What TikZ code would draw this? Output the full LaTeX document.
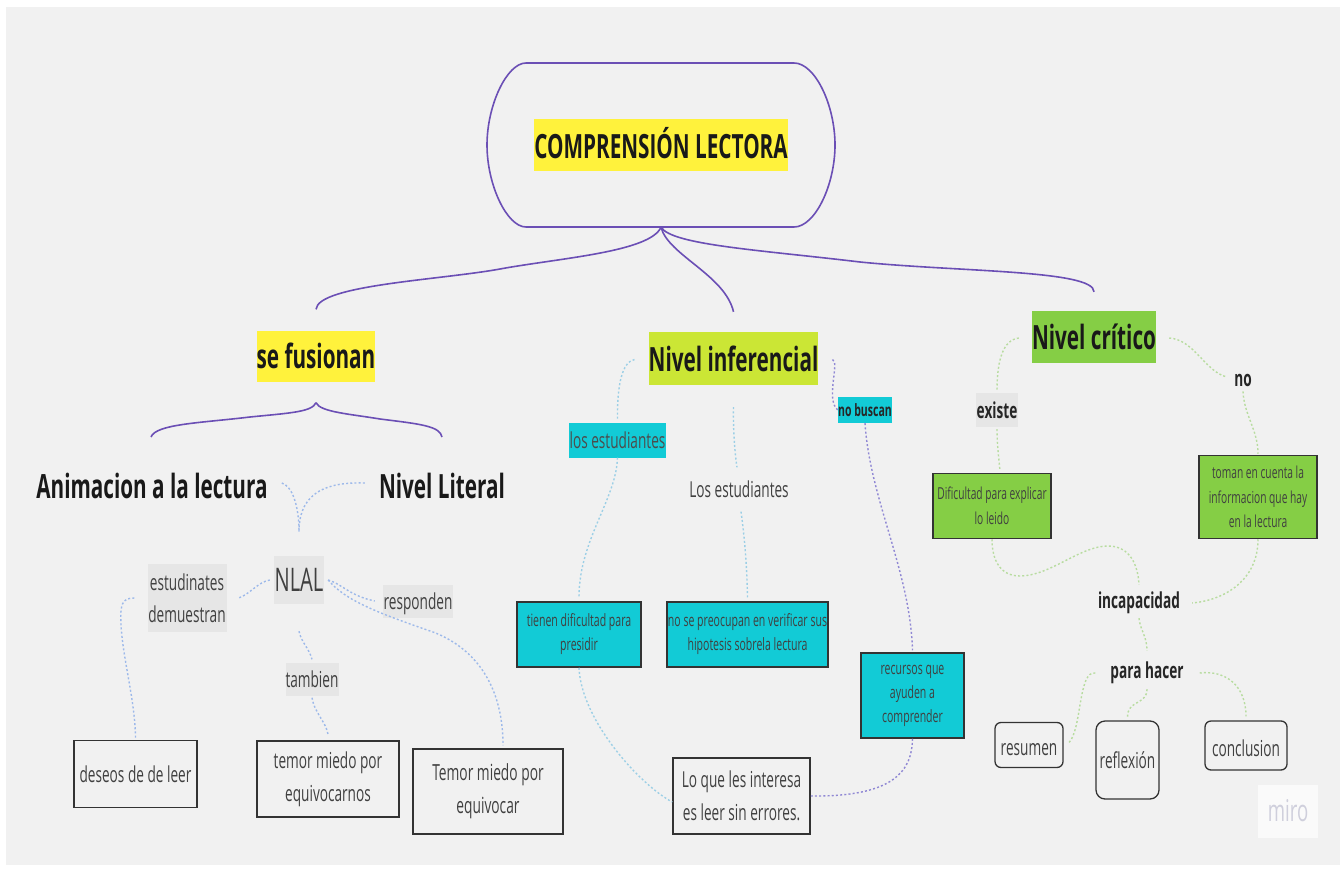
\documentclass[tikz,border=0pt]{standalone}
\usepackage{fontspec}
\setmainfont[FakeStretch=0.62]{Open Sans}
\definecolor{panel}{HTML}{F1F1F1}
\definecolor{rootline}{HTML}{6B4FB5}
\definecolor{hiyellow}{HTML}{FFF23C}
\definecolor{hilime}{HTML}{CBE635}
\definecolor{higreen}{HTML}{85CE45}
\definecolor{hicyan}{HTML}{12CBD6}
\definecolor{higrey}{HTML}{E6E6E6}
\definecolor{boxline}{HTML}{333333}
\definecolor{linkblue}{HTML}{9DB9EA}
\definecolor{linkteal}{HTML}{9CCFE6}
\definecolor{linkviolet}{HTML}{9088D4}
\definecolor{linkgreen}{HTML}{B8DCA0}
\definecolor{miroink}{HTML}{CFCFDC}
\newcommand{\fsz}[1]{\fontsize{#1}{#1}\selectfont}
\tikzset{
  trunk/.style={rootline,line width=1.6pt},
  blink/.style={linkblue,line width=1.4pt,dash pattern=on 2pt off 2.2pt},
  tlink/.style={linkteal,line width=1.4pt,dash pattern=on 2pt off 2.2pt},
  vlink/.style={linkviolet,line width=1.4pt,dash pattern=on 2pt off 2.2pt},
  glink/.style={linkgreen,line width=1.4pt,dash pattern=on 2pt off 2.2pt},
  bigbold/.style={font=\fsz{33.4}\bfseries,text=black!90,inner sep=0pt},
  midbold/.style={font=\fsz{22}\bfseries,text=black!85,inner sep=0pt},
  plain/.style={font=\fsz{22},text=black!75,inner sep=0pt,align=center},
  whitebox/.style={draw=boxline,line width=1.5pt,inner sep=0pt,align=center,text=black!75},
  colorbox/.style={draw=boxline,line width=1.5pt,inner sep=0pt,align=center,text=black!75,font=\fsz{17}},
  softbox/.style={draw=boxline,line width=1.3pt,rounded corners=6pt,inner sep=0pt,font=\fsz{22},text=black!75},
}
\begin{document}
\begin{tikzpicture}[x=1pt,y=1pt]
\useasboundingbox (0,0) rectangle (1340,-869);
\fill [white] (0,0) rectangle (1340,-869);
\fill [panel] (6,-7) rectangle (1340,-865);
% top
\node [minimum width=348pt,minimum height=164pt,inner sep=0pt] (rootbox) at (661,-145) {};
\draw [trunk] (526,-63) -- (794,-63) .. controls (815,-63) and (835,-105) .. (835,-145) .. controls (835,-185) and (815,-227) .. (794,-227) -- (526,-227) .. controls (507,-227) and (487,-185) .. (487,-145) .. controls (487,-105) and (507,-63) .. (526,-63) -- cycle;
\node [bigbold,fill=hiyellow,minimum width=254pt,minimum height=52pt,text depth=4pt] (title) at (661,-145) {COMPRENSIÓN LECTORA};
\node [bigbold,fill=hiyellow,minimum width=118pt,minimum height=51pt] (fusion) at (316,-356) {se fusionan};
\node [bigbold,fill=hilime,minimum width=169pt,minimum height=53pt] (inferencial) at (733.5,-358.5) {Nivel inferencial};
\node [bigbold,fill=higreen,minimum width=124pt,minimum height=52pt] (critico) at (1094,-337) {Nivel crítico};
\draw [trunk] (rootbox.south) .. controls (650,-252) and (560,-258) .. (500,-269) .. controls (440,-280) and (318,-285) .. ([yshift=21pt]fusion.north);
\draw [trunk] (rootbox.south) .. controls (668,-255) and (725,-275) .. ([yshift=20pt]inferencial.north);
\draw [trunk] (rootbox.south) .. controls (672,-245) and (760,-250) .. (860,-262) .. controls (960,-272) and (1094,-270) .. ([yshift=19pt]critico.north);
% left branch
\coordinate (braceleft) at (151,-437);
\coordinate (braceright) at (442,-437);
\node [bigbold] (anim) at (152,-486) {Animacion a la lectura};
\node [bigbold] (literal) at (442,-486) {Nivel Literal};
\draw [trunk] (braceleft) .. controls (156,-424) and (200,-423) .. (250,-417) .. controls (290,-413) and (312,-412) .. ([yshift=-21pt]fusion.south);
\draw [trunk] ([yshift=-21pt]fusion.south) .. controls (320,-412) and (350,-414) .. (380,-419) .. controls (420,-424) and (440,-426) .. (braceright);
\node [plain,fill=higrey,minimum width=50pt,minimum height=48pt,font=\fsz{32.5}] (nlal) at (299,-580) {NLAL};
\draw [blink] ([xshift=14pt,yshift=3pt]anim.east) .. controls (292,-486) and (299,-505) .. ([yshift=24pt]nlal.north);
\draw [blink] ([xshift=-14pt,yshift=3pt]literal.west) .. controls (330,-482) and (299,-490) .. ([yshift=24pt]nlal.north);
\node [plain,fill=higrey,minimum width=79pt,minimum height=68pt] (demuestran) at (187,-598) {estudinates\\[10pt]demuestran};
\node [plain,fill=higrey,minimum width=53pt,minimum height=33pt] (tambien) at (312,-679) {tambien};
\node [plain,fill=higrey,minimum width=70pt,minimum height=33pt,text height=22.6pt,text depth=4.8pt] (responden) at (418,-601) {responden};
\node [whitebox,minimum width=123pt,minimum height=67pt,font=\fsz{22}] (deseos) at (135.5,-774) {deseos de de leer};
\node [whitebox,minimum width=142pt,minimum height=76pt,font=\fsz{22}] (temor) at (328,-779) {temor miedo por\\[11pt]equivocarnos};
\node [whitebox,minimum width=150pt,minimum height=85pt,font=\fsz{22.2}] (temorb) at (488,-791.5) {Temor miedo por\\[11pt]equivocar};
\draw [blink] ([xshift=-4pt]nlal.west) .. controls (258,-582) and (250,-594) .. ([xshift=12pt]demuestran.east);
\draw [blink] ([xshift=-13pt]demuestran.west) .. controls (122,-598) and (120,-604) .. (121,-625) .. controls (123,-660) and (135,-700) .. ([yshift=2pt]deseos.north);
\draw [blink] ([yshift=-27pt]nlal.south) .. controls (301,-642) and (309,-648) .. ([yshift=3pt]tambien.north);
\draw [blink] ([yshift=-2pt]tambien.south) .. controls (314,-712) and (326,-722) .. ([yshift=6pt]temor.north);
\draw [blink] ([xshift=4pt]nlal.east) .. controls (342,-584) and (350,-596) .. ([xshift=-8pt]responden.west);
\draw [blink] ([xshift=4pt]nlal.east) .. controls (345,-600) and (375,-612) .. (433,-632) .. controls (470,-646) and (503,-680) .. ([xshift=15pt,yshift=3pt]temorb.north);
% middle branch
\node [plain,fill=hicyan,minimum width=97pt,minimum height=35pt,text=black!70] (losest) at (617.5,-440) {los estudiantes};
\node [plain] (losplain) at (739,-489) {Los estudiantes};
\node [midbold,fill=hicyan,minimum width=52pt,minimum height=26pt,font=\fsz{17}\bfseries] (nobuscan) at (865,-410) {no buscan};
\node [colorbox,fill=hicyan,minimum width=124pt,minimum height=65pt] (tienen) at (579,-634.5) {tienen dificultad para\\[7pt]presidir};
\node [colorbox,fill=hicyan,minimum width=161pt,minimum height=65pt] (nose) at (747.5,-634.5) {no se preocupan en verificar sus\\[7pt]hipotesis sobrela lectura};
\node [colorbox,fill=hicyan,minimum width=103pt,minimum height=85pt] (recursos) at (912.5,-695.5) {recursos que\\[7pt]ayuden a\\[7pt]comprender};
\node [whitebox,minimum width=137pt,minimum height=76pt,font=\fsz{22}] (interesa) at (741.5,-796) {Lo que les interesa\\[11pt]es leer sin errores.};
\draw [tlink] ([xshift=-14pt,yshift=-1pt]inferencial.west) .. controls (622,-362) and (617,-385) .. ([yshift=2pt]losest.north);
\draw [tlink] (losest.south) .. controls (616,-500) and (579,-540) .. ([yshift=4pt]tienen.north);
\draw [tlink] ([yshift=-22pt]inferencial.south) .. controls (733,-430) and (735,-455) .. ([xshift=-2pt,yshift=13pt]losplain.north);
\draw [tlink] ([xshift=2pt,yshift=-14pt]losplain.south) .. controls (745,-540) and (747,-570) .. ([yshift=4pt]nose.north);
\draw [tlink] (tienen.south) .. controls (581,-720) and (640,-785) .. ([yshift=-6pt]interesa.west);
\draw [vlink] ([xshift=14pt,yshift=-1pt]inferencial.east) .. controls (840,-362) and (825,-400) .. (nobuscan.west);
\draw [vlink] (nobuscan.south) .. controls (870,-500) and (910,-570) .. ([yshift=2pt]recursos.north);
\draw [vlink] (recursos.south) .. controls (912,-770) and (895,-797) .. (interesa.east);
% right branch
\node [midbold,fill=higrey,minimum width=42pt,minimum height=34pt] (existe) at (997,-410) {existe};
\node [midbold] (nolabel) at (1243,-380) {no};
\node [colorbox,fill=higreen,minimum width=118pt,minimum height=65pt,font=\fsz{16.5}] (dificultad) at (992,-506) {Dificultad para explicar\\[8pt]lo leido};
\node [colorbox,fill=higreen,minimum width=118pt,minimum height=83pt,font=\fsz{16.5}] (toman) at (1258,-497) {toman en cuenta la\\[8pt]informacion que hay\\[8pt]en la lectura};
\node [midbold] (incap) at (1139,-603) {incapacidad};
\node [midbold] (parahacer) at (1147,-673) {para hacer};
\node [softbox,minimum width=68pt,minimum height=45pt,text height=20pt,text depth=0pt] (resumen) at (1029,-745) {resumen};
\node [softbox,minimum width=63pt,minimum height=78pt,rounded corners=9pt] (reflexion) at (1127.5,-760) {reflexión};
\node [softbox,minimum width=82pt,minimum height=49pt,text height=21pt,text depth=0pt] (conclusion) at (1246,-745.5) {conclusion};
\draw [glink] ([xshift=-13pt,yshift=-1pt]critico.west) .. controls (1003,-340) and (997,-360) .. ([yshift=2pt]existe.north);
\draw [glink] ([yshift=-2pt]existe.south) .. controls (997,-445) and (999,-460) .. ([xshift=8pt,yshift=2pt]dificultad.north);
\draw [glink] ([xshift=13pt,yshift=-1pt]critico.east) .. controls (1195,-340) and (1205,-372) .. ([xshift=-7pt,yshift=3pt]nolabel.west);
\draw [glink] ([yshift=-5pt]nolabel.south) .. controls (1244,-415) and (1258,-430) .. ([yshift=1pt]toman.north);
\draw [glink] (dificultad.south) .. controls (992,-560) and (1000,-576) .. (1020,-576) .. controls (1050,-576) and (1080,-546) .. (1108,-546) .. controls (1130,-546) and (1138,-565) .. ([yshift=7pt]incap.north);
\draw [glink] (toman.south) .. controls (1258,-580) and (1225,-600) .. ([xshift=12pt]incap.east);
\draw [glink] ([yshift=-4pt]incap.south) .. controls (1140,-630) and (1147,-636) .. ([yshift=11pt]parahacer.north);
\draw [glink] ([xshift=-15pt]parahacer.west) .. controls (1078,-670) and (1082,-730) .. ([xshift=5pt,yshift=2pt]resumen.east);
\draw [glink] ([yshift=-5pt]parahacer.south) .. controls (1147,-705) and (1127,-700) .. ([yshift=3pt]reflexion.north);
\draw [glink] ([xshift=16pt]parahacer.east) .. controls (1225,-670) and (1246,-685) .. ([yshift=4pt]conclusion.north);
% watermark
\node [fill=black!2,minimum width=60pt,minimum height=53pt,inner sep=0pt,text=miroink,font=\fsz{30}] (miro) at (1288,-811) {miro};
\end{tikzpicture}
\end{document}
